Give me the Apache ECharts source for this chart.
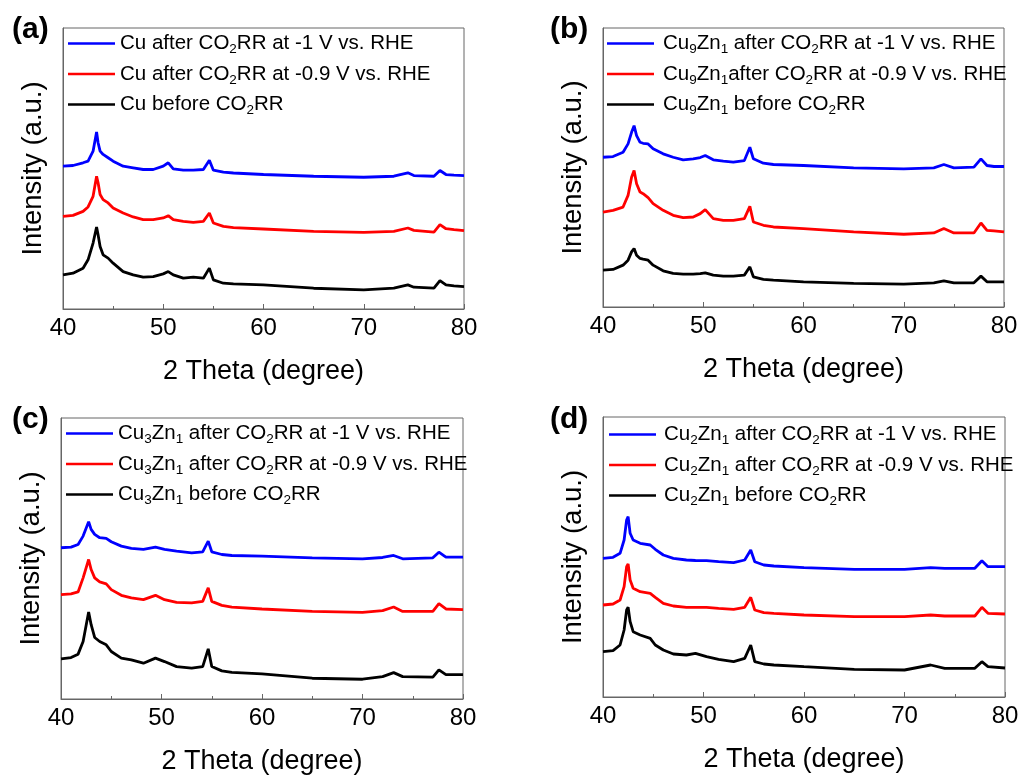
<!DOCTYPE html>
<html><head><meta charset="utf-8">
<script src="https://cdn.jsdelivr.net/npm/echarts@6/dist/echarts.min.js"></script>
<style>html,body{margin:0;padding:0;background:#fff}#c{width:1023px;height:777px}</style>
</head><body><div id="c"></div><script>
// ---- data (2θ in degrees, intensity in arbitrary units, traces offset as in the figure) ----
const xA = [40,41,42,42.5,43,43.35,43.5,43.7,44,44.5,45,46,47,48,49,50,50.5,51,52,53,54,54.6,55,56,57,60,65,70,73,74.4,75,77,77.6,78.2,79,80];
const aBlue  = [142.3,143,145.7,147.3,157.3,176.3,165.7,157.3,154,150.7,147.3,142.3,140.7,139,139,142.3,145.7,139.7,138.3,138.3,139,148.3,138.3,136.3,135.5,134,132.3,131.3,132.3,135.7,133,132.3,138,134,133.3,133];
const aRed   = [92.3,93.3,97.3,101.7,112.3,132.3,125.7,114,109,105.7,100.7,95.7,91.7,89,89,90.7,93,89,87.3,86.3,87.3,95.7,85.7,82.3,81,79.7,77.3,76.3,77.3,80.7,78.3,76.7,84,80,79,78];
const aBlack = [34,35.7,40.7,49,65.7,81.7,74,62.3,54,50.7,45.7,37.3,34,31.7,32.3,35,37.3,34,30.7,31.7,30.7,40.7,29,25.7,25,24,20.7,19,20.7,24,21.7,20.7,28.3,24,23,22.3];

const xB = [40,41,42,42.5,42.85,43.1,43.35,43.7,44,44.5,45,46,47,48,49,49.7,50.2,51,52,53,54.1,54.65,55,56,57,60,65,70,73,74,75,77,77.7,78.3,79,80];
const bBlue  = [150.3,151,155.3,163.7,175.3,182,172,165.3,164.3,163.7,158.7,153.7,150.3,147.7,148.7,150,152,147.7,146.3,145.3,147,160.3,148.7,144.3,143,142,139.7,138.7,139.7,143,139.7,140.3,148.7,142,141,141];
const bRed   = [95.3,97,100.3,112,130.3,137,123.7,115.3,113.7,109.7,103.7,97,92,89.7,90.3,93.7,97.7,88.7,87,87,88.7,101,85.3,82,80.3,78.7,75.3,73,74.3,78.7,74.3,74.3,84.3,77,76.3,75.3];
const bBlack = [37,37.7,42,47,55.3,58.7,52,48.7,48,47,42,36.3,33.7,33,33,33.5,34.3,32,31,31,32,40.3,30.3,27.7,27,25.3,23.7,23,24.3,26.3,24.3,24.3,31,25.3,25.3,25.3];

const xC = [40,41,41.7,42.2,42.75,43,43.35,43.85,44.5,45,46,47,48.2,49.4,50.3,51.5,53,54.1,54.65,55,56,57,60,65,70,72,73.1,74,77,77.6,78.3,80];
const cBlue  = [150.7,151.3,154,162.3,176.7,169,164,160.7,160,156.7,152.3,150,149,151.3,149,147.3,145.7,146.7,157.3,146.7,144,143,142.3,140.7,139.7,141,143,139.7,140.7,146.3,141.3,141.3];
const cRed   = [104,104.7,106.7,120.7,139,129,120.7,116.7,114.7,109,103.3,100.7,99,103.3,99,96.3,95.7,97.3,110.7,97.3,93.3,91.5,89.7,87.3,86.3,88,91.7,87.3,87.3,95,89.7,89];
const cBlack = [40,41.3,44.7,57.3,86.7,74,61.3,57.3,54,47.3,40.7,39,35.7,40.7,37.3,32.3,30.7,32.3,50,32.3,28,26.5,25,20.7,19.7,22.3,26.3,22.3,21.7,29,24.3,24.3];

const xD = [40,41,41.7,42.1,42.35,42.5,42.7,43,43.7,44.7,45.2,46,47,48.3,49.2,50.3,51.5,53,54.1,54.7,55.1,56,57,60,65,70,72.6,74,77,77.7,78.3,80];
const dBlue  = [138.7,139.7,143.7,157,177,180.3,163.7,157,153.7,152,147.7,142,138.7,137,136.5,136.3,135.3,134.3,137,147,135.3,132,131,129.3,127.7,127.7,129.3,128.7,128.7,136.3,130.3,130.3];
const dRed   = [92,93,97,110.3,130.3,133,117,108.7,105.3,103.7,99.7,93.7,91,89.7,89.7,89.7,88.7,87.7,89.7,99.7,87,84.3,83.7,82,80.3,80.3,82,81,81,89.7,83.7,83];
const dBlack = [45.3,46.3,52,67,87,89.7,75.3,65.3,62,58.7,52,47,43,42,43.7,40.3,37.7,35.3,38.7,52,35.3,33,32,30.3,27.7,27,32,28.7,28.7,35.3,30.3,29];

const panelLabels = ['(a)','(b)','(c)','(d)'];
const namesA = ['Cu after CO_{2}RR at -1 V vs. RHE','Cu after CO_{2}RR at -0.9 V vs. RHE','Cu before CO_{2}RR'];
const namesB = ['Cu_{9}Zn_{1} after CO_{2}RR at -1 V vs. RHE','Cu_{9}Zn_{1}after CO_{2}RR at -0.9 V vs. RHE','Cu_{9}Zn_{1} before CO_{2}RR'];
const namesC = ['Cu_{3}Zn_{1} after CO_{2}RR at -1 V vs. RHE','Cu_{3}Zn_{1} after CO_{2}RR at -0.9 V vs. RHE','Cu_{3}Zn_{1} before CO_{2}RR'];
const namesD = ['Cu_{2}Zn_{1} after CO_{2}RR at -1 V vs. RHE','Cu_{2}Zn_{1} after CO_{2}RR at -0.9 V vs. RHE','Cu_{2}Zn_{1} before CO_{2}RR'];
const xName = '2 Theta (degree)';
const yName = 'Intensity (a.u.)';
const colors = ['#0000FF','#FF0000','#000000'];

// ---- layout ----
const FONT = '"Liberation Sans", Arial, sans-serif';
const panels = [
  {x: xA, ys: [aBlue,aRed,aBlack], names: namesA, grid: {left:63, top:28, width:401, height:281}, legend:{left:68, top:33, pad:0}, title:{left:12, top:15}},
  {x: xB, ys: [bBlue,bRed,bBlack], names: namesB, grid: {left:603, top:28, width:401, height:279}, legend:{left:607, top:33, pad:4}, title:{left:550, top:15}},
  {x: xC, ys: [cBlue,cRed,cBlack], names: namesC, grid: {left:61, top:418, width:402, height:281}, legend:{left:66, top:423, pad:0}, title:{left:12, top:405}},
  {x: xD, ys: [dBlue,dRed,dBlack], names: namesD, grid: {left:603, top:417, width:402, height:280}, legend:{left:609, top:424, pad:3}, title:{left:550, top:405}}
];

function richName(name){
  return name.split(/(_\{[^}]*\})/).filter(s=>s.length).map(s=>{
    const m = s.match(/^_\{([^}]*)\}$/);
    return m ? '{s|' + m[1] + '}' : '{n|' + s + '}';
  }).join('');
}

const option = {
  backgroundColor: '#fff',
  animation: false,
  title: [], grid: [], xAxis: [], yAxis: [], legend: [], series: []
};

panels.forEach((p, i) => {
  option.title.push({text: panelLabels[i], left: p.title.left, top: p.title.top, padding: 0,
    textStyle: {fontFamily: FONT, fontSize: 30, fontWeight: 'bold', color: '#000'}});
  option.grid.push(Object.assign({show: true, borderColor: '#666', borderWidth: 1, backgroundColor: 'transparent', containLabel: false}, p.grid));
  option.xAxis.push({
    type: 'value', gridIndex: i, min: 40, max: 80, interval: 10,
    name: xName, nameLocation: 'middle', nameGap: 49,
    nameTextStyle: {fontFamily: FONT, fontSize: 27, color: '#000'},
    axisLine: {show: true, onZero: false, lineStyle: {color: '#666', width: 1}},
    axisTick: {show: true, inside: true, length: 5, lineStyle: {color: '#666'}},
    minorTick: {show: true, splitNumber: 2, length: 3, lineStyle: {color: '#666'}},
    axisLabel: {fontFamily: FONT, fontSize: 24, color: '#000', margin: 7},
    splitLine: {show: false}
  });
  option.yAxis.push({
    type: 'value', gridIndex: i, min: 0, max: 280,
    name: yName, nameLocation: 'middle', nameGap: 16,
    nameTextStyle: {fontFamily: FONT, fontSize: 27.5, color: '#000'},
    axisLine: {show: true, lineStyle: {color: '#666', width: 1}},
    axisTick: {show: false}, axisLabel: {show: false}, splitLine: {show: false}
  });
  option.legend.push({
    orient: 'vertical', left: p.legend.left, top: p.legend.top, padding: 0,
    icon: 'rect', itemWidth: 47, itemHeight: 2.5, itemGap: 7,
    data: p.names,
    formatter: richName,
    textStyle: {
      fontFamily: FONT, fontSize: 20.5, color: '#000', padding: [0,0,0,p.legend.pad],
      rich: {
        n: {fontFamily: FONT, fontSize: 20.5, color: '#000', lineHeight: 26},
        s: {fontFamily: FONT, fontSize: 13.5, color: '#000', lineHeight: 12, verticalAlign: 'bottom'}
      }
    }
  });
  p.ys.forEach((ys, k) => {
    option.series.push({
      type: 'line', name: p.names[k], xAxisIndex: i, yAxisIndex: i,
      data: p.x.map((v, j) => [v, ys[j]]),
      symbol: 'none', showSymbol: false, smooth: false,
      color: colors[k],
      itemStyle: {color: colors[k]},
      lineStyle: {color: colors[k], width: 2.8},
      z: 3 - k
    });
  });
});

const chart = echarts.init(document.getElementById('c'), null, {renderer: 'canvas'});
chart.setOption(option);
</script></body></html>
